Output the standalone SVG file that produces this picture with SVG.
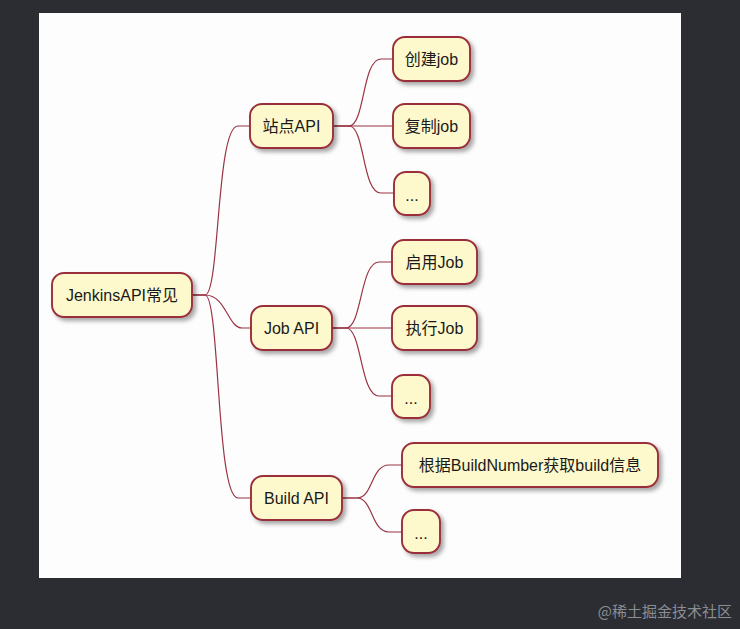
<svg xmlns="http://www.w3.org/2000/svg" width="740" height="629" viewBox="0 0 740 629">
  <defs>
    <filter id="shadow" x="-20%" y="-30%" width="150%" height="180%">
      <feDropShadow dx="3" dy="3" stdDeviation="2" flood-color="#000" flood-opacity="0.35"/>
    </filter>
    <style>
      .node rect { fill: #FDF9CC; stroke: #9A2F3A; stroke-width: 1.9; filter: url(#shadow); }
      .node text { font-family: "Liberation Sans", "Noto Sans CJK SC", sans-serif; font-size: 16px; fill: #1a1a1a; text-anchor: middle; dominant-baseline: central; }
      .conn path { fill: none; stroke: #9A3444; stroke-width: 1.2; }
      .wm { font-family: "Noto Sans CJK SC", sans-serif; font-size: 15px; fill: #8a8d93; text-anchor: end; }
    </style>
  </defs>
  <rect x="0" y="0" width="740" height="629" fill="#2b2d32"/>
  <rect x="39" y="13" width="642" height="565" fill="#fdfdfd"/>

  <g id="connectors" class="conn">
    <path d="M192,295 L205,295 C220,295 216,126 238,126 L250,126"/>
    <path d="M192,295 L205,295 C226,295 228,328 242,328 L251,328"/>
    <path d="M192,295 L205,295 C220,295 216,498 238,498 L251,498"/>
    <path d="M333,126 L349,126 C365,126 362,59 381,59 L393,59"/>
    <path d="M333,126 L393,126"/>
    <path d="M333,126 L349,126 C365,126 362,193 381,193 L394,193"/>
    <path d="M332,328 L346,328 C362,328 360,262 379,262 L392,262"/>
    <path d="M332,328 L392,328"/>
    <path d="M332,328 L346,328 C362,328 360,396 379,396 L392,396"/>
    <path d="M342,498 L357,498 C373,498 371,465 389,465 L402,465"/>
    <path d="M342,498 L357,498 C373,498 371,532 389,532 L402,532"/>
  </g>

  <g id="root" class="node"><rect x="52" y="273" width="140" height="44" rx="12"/><text x="122" y="295">JenkinsAPI常见</text></g>
  <g id="site-api" class="node"><rect x="250" y="104" width="83" height="44" rx="12"/><text x="291.5" y="126">站点API</text></g>
  <g id="job-api" class="node"><rect x="251" y="306" width="81" height="44" rx="12"/><text x="291.5" y="328">Job API</text></g>
  <g id="build-api" class="node"><rect x="251" y="476" width="91" height="44" rx="12"/><text x="296.5" y="498">Build API</text></g>

  <g id="create-job" class="node"><rect x="393" y="37" width="77" height="44" rx="12"/><text x="431.5" y="59">创建job</text></g>
  <g id="copy-job" class="node"><rect x="393" y="104" width="77" height="44" rx="12"/><text x="431.5" y="126">复制job</text></g>
  <g id="site-more" class="node"><rect x="394" y="172" width="36" height="43" rx="12"/><text x="412" y="195">...</text></g>

  <g id="enable-job" class="node"><rect x="392" y="240" width="85" height="44" rx="12"/><text x="434.5" y="262">启用Job</text></g>
  <g id="run-job" class="node"><rect x="392" y="306" width="85" height="44" rx="12"/><text x="434.5" y="328">执行Job</text></g>
  <g id="job-more" class="node"><rect x="392" y="375" width="38" height="43" rx="12"/><text x="411" y="398">...</text></g>

  <g id="build-info" class="node"><rect x="402" y="443" width="256" height="44" rx="12"/><text x="530" y="465">根据BuildNumber获取build信息</text></g>
  <g id="build-more" class="node"><rect x="402" y="510" width="38" height="43" rx="12"/><text x="421" y="533">...</text></g>

  <text class="wm" x="732" y="617">@稀土掘金技术社区</text>
</svg>
